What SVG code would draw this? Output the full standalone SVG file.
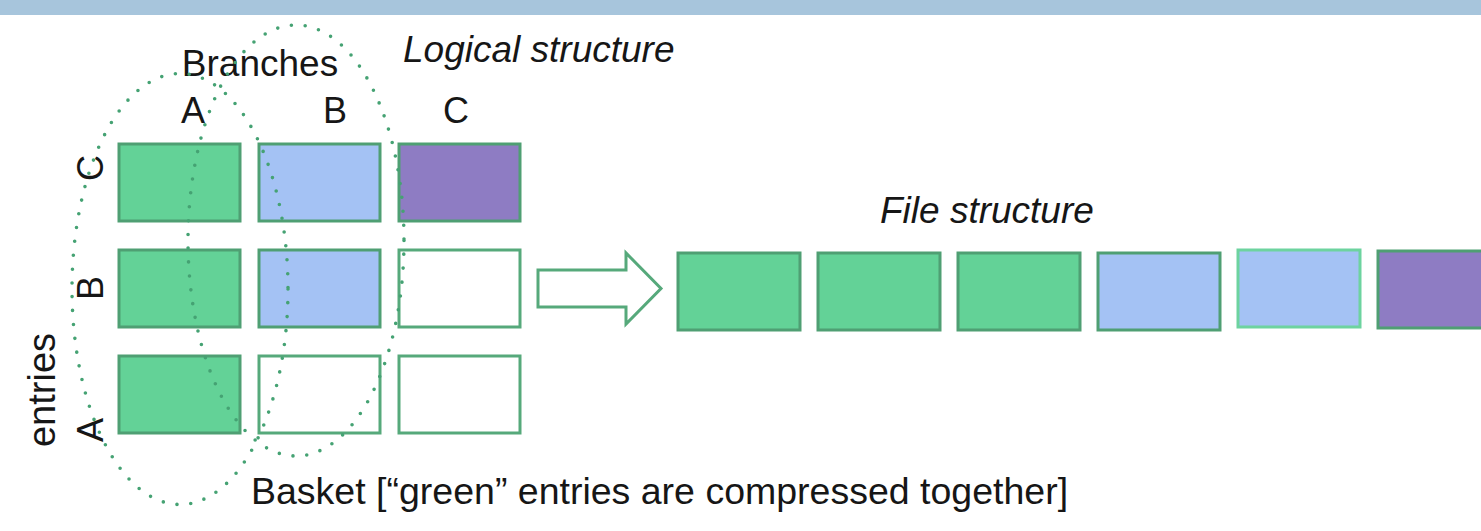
<svg xmlns="http://www.w3.org/2000/svg" width="1481" height="531" viewBox="0 0 1481 531">
  <style>
    .txt { font-family: "Liberation Sans", Arial, sans-serif; fill: #161616; }
    .it { font-style: italic; }
    .cell { stroke: #4f9f73; stroke-width: 3; }
    .green { fill: #63d297; }
    .blue { fill: #a4c2f4; }
    .purple { fill: #8e7cc3; }
    .empty { fill: #ffffff; stroke: #56a97b; }
    .basket { fill: none; stroke: #45a273; stroke-width: 3.6; stroke-linecap: round; stroke-dasharray: 0 13.9; }
  </style>

  <!-- header band -->
  <rect x="0" y="0" width="1481" height="15" fill="#a7c5dc"/>

  <!-- labels -->
  <g id="labels">
    <text class="txt" x="260" y="76" font-size="37" text-anchor="middle">Branches</text>
    <text class="txt" x="193" y="123" font-size="36" text-anchor="middle">A</text>
    <text class="txt" x="335" y="123" font-size="36" text-anchor="middle">B</text>
    <text class="txt" x="456" y="123" font-size="36" text-anchor="middle">C</text>
    <text class="txt it" x="403" y="62" font-size="37">Logical structure</text>
    <text class="txt it" x="880" y="223" font-size="37">File structure</text>
    <text class="txt" font-size="36" text-anchor="middle" transform="translate(103,168) rotate(-90)">C</text>
    <text class="txt" font-size="36" text-anchor="middle" transform="translate(103,288) rotate(-90)">B</text>
    <text class="txt" font-size="36" text-anchor="middle" transform="translate(103,430) rotate(-90)">A</text>
    <text class="txt" font-size="38" text-anchor="middle" transform="translate(55,390) rotate(-90)">entries</text>
    <text class="txt" x="251" y="504" font-size="37.5">Basket [“green” entries are compressed together]</text>
  </g>

  <!-- logical grid: rows C, B, A; columns A, B, C -->
  <g id="grid">
    <rect id="cell-CA" class="cell green" x="119" y="144" width="121" height="77"/>
    <rect id="cell-CB" class="cell blue" x="259" y="144" width="121" height="77"/>
    <rect id="cell-CC" class="cell purple" x="399" y="144" width="121" height="77"/>
    <rect id="cell-BA" class="cell green" x="119" y="250" width="121" height="77"/>
    <rect id="cell-BB" class="cell blue" x="259" y="250" width="121" height="77"/>
    <rect id="cell-BC" class="cell empty" x="399" y="250" width="121" height="77"/>
    <rect id="cell-AA" class="cell green" x="119" y="356" width="121" height="77"/>
    <rect id="cell-AB" class="cell empty" x="259" y="356" width="121" height="77"/>
    <rect id="cell-AC" class="cell empty" x="399" y="356" width="121" height="77"/>
  </g>

  <!-- baskets -->
  <g id="baskets">
    <ellipse id="basket-A" class="basket" cx="180" cy="289" rx="108" ry="215.5"/>
    <ellipse id="basket-B" class="basket" cx="296" cy="240.5" rx="108" ry="215.5"/>
  </g>

  <!-- connectors -->
  <g id="connectors">
    <polygon points="538,270 626,270 626,253 661,288.5 626,324 626,307 538,307" fill="#ffffff" stroke="#56a97b" stroke-width="3" stroke-linejoin="miter"/>
  </g>

  <!-- file layout -->
  <g id="file">
    <rect id="file-1" class="cell green" x="678" y="253" width="122" height="77"/>
    <rect id="file-2" class="cell green" x="818" y="253" width="122" height="77"/>
    <rect id="file-3" class="cell green" x="958" y="253" width="122" height="77"/>
    <rect id="file-4" class="cell blue" x="1098" y="253" width="122" height="77"/>
    <rect id="file-5" class="blue" x="1238" y="250" width="122" height="77" stroke="#6dd39f" stroke-width="3"/>
    <rect id="file-6" class="cell purple" x="1378" y="251" width="122" height="77"/>
  </g>
</svg>
